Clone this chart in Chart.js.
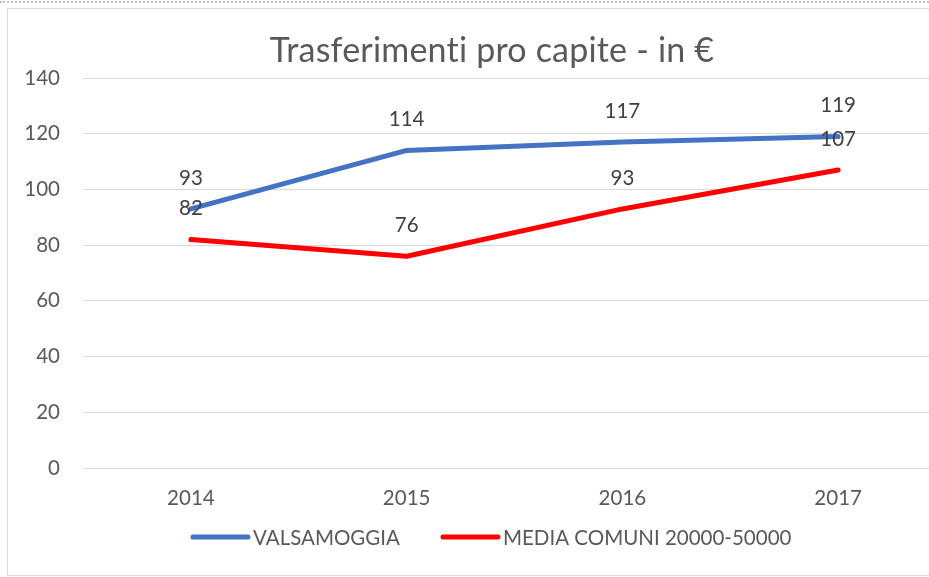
<!DOCTYPE html>
<html><head><meta charset="utf-8">
<script src="https://cdn.jsdelivr.net/npm/chart.js@4"></script>
<style>
html,body{margin:0;padding:0;background:#fff;overflow:hidden;width:929px;height:577px;}
#dots{position:absolute;left:0;top:1px;width:929px;border-top:2px dotted #c0c0c0;}
#box{position:absolute;left:7px;top:8px;width:960px;height:566px;border:1px solid #d9d9d9;}
#wrap{position:absolute;left:0;top:0;width:960px;height:577px;}
</style></head><body>
<div id="dots"></div><div id="box"></div>
<div id="wrap"><canvas id="c" width="960" height="577"></canvas></div>
<script>
const categories = ['2014', '2015', '2016', '2017'];
const valsamoggia = [93, 114, 117, 119];
const mediaComuni = [82, 76, 93, 107];
const seriesNames = ['VALSAMOGGIA', 'MEDIA COMUNI 20000-50000'];
const titleText = 'Trasferimenti pro capite - in €';

const FONT = 'Lato, "Open Sans", sans-serif';
const BLUE = '#4472C4', RED = '#FF0000', TXT = '#595959', LBL = '#404040';

const overlay = {
  id: 'overlay',
  afterDraw(chart) {
    const ctx = chart.ctx;
    ctx.save();
    // title (letter spacing trick disables the "ti" ligature)
    ctx.fillStyle = TXT;
    ctx.font = '34px ' + FONT;
    if ('letterSpacing' in ctx) ctx.letterSpacing = '0.2px';
    ctx.textAlign = 'center';
    ctx.textBaseline = 'middle';
    ctx.fillText(titleText, 492, 51);
    if ('letterSpacing' in ctx) ctx.letterSpacing = '0px';
    // data labels
    ctx.fillStyle = LBL;
    ctx.font = '20.5px ' + FONT;
    chart.data.datasets.forEach((ds, i) => {
      const meta = chart.getDatasetMeta(i);
      meta.data.forEach((pt, j) => {
        ctx.fillText(String(ds.data[j]), pt.x, pt.y - 31);
      });
    });
    // legend
    const items = [
      {x0: 193, x1: 248, color: BLUE, text: seriesNames[0]},
      {x0: 443, x1: 498, color: RED, text: seriesNames[1]}
    ];
    ctx.font = '20.5px ' + FONT;
    ctx.textAlign = 'left';
    items.forEach(it => {
      ctx.strokeStyle = it.color;
      ctx.lineWidth = 5;
      ctx.lineCap = 'round';
      ctx.beginPath();
      ctx.moveTo(it.x0, 537);
      ctx.lineTo(it.x1, 537);
      ctx.stroke();
      ctx.fillStyle = TXT;
      ctx.fillText(it.text, it.x1 + 5, 538);
    });
    ctx.restore();
  }
};

new Chart(document.getElementById('c'), {
  type: 'line',
  data: {
    labels: categories,
    datasets: [
      {label: seriesNames[0], data: valsamoggia, borderColor: BLUE, backgroundColor: BLUE,
       borderWidth: 5, pointRadius: 0, tension: 0, borderCapStyle: 'round', borderJoinStyle: 'round'},
      {label: seriesNames[1], data: mediaComuni, borderColor: RED, backgroundColor: RED,
       borderWidth: 5, pointRadius: 0, tension: 0, borderCapStyle: 'round', borderJoinStyle: 'round'}
    ]
  },
  options: {
    responsive: false,
    animation: false,
    devicePixelRatio: 1,
    layout: {padding: {left: 0, right: 14, top: 78, bottom: 69}},
    plugins: {legend: {display: false}, title: {display: false}, tooltip: {enabled: false}},
    scales: {
      x: {
        offset: true,
        grid: {display: false, drawTicks: false},
        border: {display: false},
        ticks: {color: TXT, font: {size: 20.5, family: FONT}, padding: 18},
        afterFit(s) { s.height = 40; }
      },
      y: {
        min: 0, max: 140,
        ticks: {stepSize: 20, color: TXT, font: {size: 20.5, family: FONT}, padding: 23},
        grid: {color: '#d9d9d9', lineWidth: 1, drawTicks: false, tickLength: 0},
        border: {display: false},
        afterFit(s) { s.width = 83; }
      }
    }
  },
  plugins: [overlay]
});
</script>
</body></html>
